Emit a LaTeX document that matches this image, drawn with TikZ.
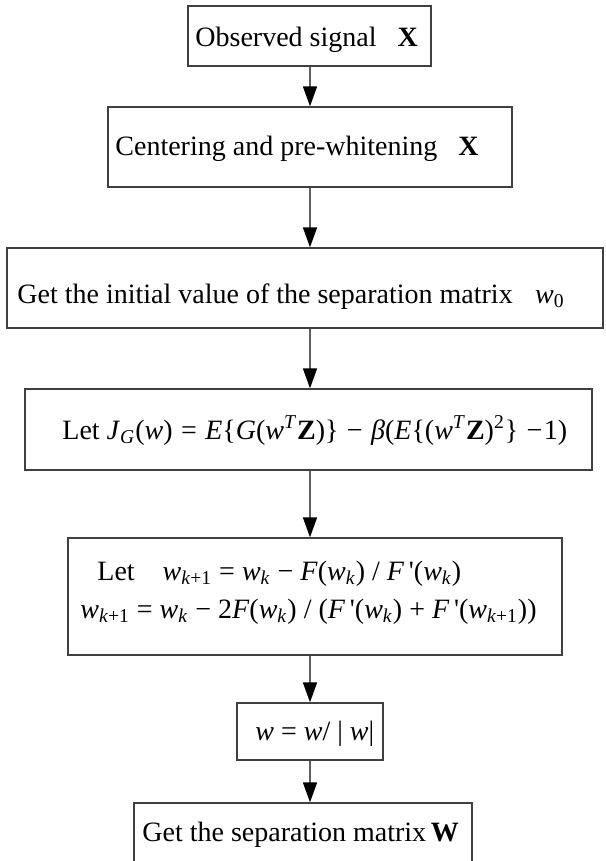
\documentclass[tikz,border=0pt]{standalone}
\usepackage{fontspec}
\setmainfont{Liberation Serif}
\usetikzlibrary{arrows.meta}
\definecolor{boxc}{gray}{0.25}
\definecolor{linec}{gray}{0.38}
\newcommand{\vi}[1]{\textit{#1}}
\newcommand{\lo}[1]{\textsubscript{#1}}
\newcommand{\hi}[1]{\textsuperscript{#1}}
\newcommand{\pr}{\,\textquotesingle}
\newcommand{\op}[1]{\hspace{0.3em}#1\hspace{0.3em}}
\begin{document}
\begin{tikzpicture}[x=0.5pt,y=-0.5pt,
  box/.style={draw=boxc, line width=0.65pt, inner sep=0pt, rectangle},
  txt/.style={inner sep=0pt, anchor=base west, font=\fontsize{14}{17}\selectfont},
  flow/.style={draw=linec, line width=0.75pt, -{Triangle[length=10pt,width=7pt,color=black]}}]
\useasboundingbox (0,0) rectangle (605,861);
\clip (0,0) rectangle (605,861);
\fill[white] (0,0) rectangle (605,861);
% boxes
\node[box, minimum width=121.5pt, minimum height=30pt] (b1) at (309.5,36) {};
\node[box, minimum width=202pt, minimum height=40pt] (b2) at (310,147) {};
\node[box, minimum width=298pt, minimum height=40pt] (b3) at (305,288) {};
\node[box, minimum width=283.5pt, minimum height=40.5pt] (b4) at (308.5,429.5) {};
\node[box, minimum width=247pt, minimum height=58.5pt] (b5) at (315,596.5) {};
\node[box, minimum width=73pt, minimum height=28.5pt] (b6) at (310,731.5) {};
\node[box, minimum width=169pt, minimum height=60pt] (b7) at (303,863) {};
% texts
\node[txt] (t1) at (195,47) {Observed signal\hspace{0.75em}\textbf{X}};
\node[txt] (t2) at (115,156) {Centering and pre-whitening\hspace{0.75em}\textbf{X}};
\node[txt] (t3) at (17,303) {Get the initial value of the separation matrix\hspace{0.8em}\vi{w}\lo{0}};
\node[txt] (t4) at (62,439) {Let \vi{J}\lo{\vi{G}}(\vi{w})\op{=}\vi{E}\{\vi{G}(\vi{w}\hi{\vi{T}}\textbf{Z})\}\op{−}\vi{β}(\vi{E}\{(\vi{w}\hi{\vi{T}}\textbf{Z})\hi{2}\}\op{−}\hspace{-0.25em}1)};
\node[txt] (t5a) at (97,580) {Let\hspace{1em}\vi{w}\lo{\vi{k}+1} = \vi{w}\lo{\vi{k}} − \vi{F}(\vi{w}\lo{\vi{k}}) / \vi{F}\pr(\vi{w}\lo{\vi{k}})};
\node[txt] (t5b) at (80,618) {\vi{w}\lo{\vi{k}+1} = \vi{w}\lo{\vi{k}} − 2\vi{F}(\vi{w}\lo{\vi{k}}) / (\vi{F}\pr(\vi{w}\lo{\vi{k}}) + \vi{F}\pr(\vi{w}\lo{\vi{k}+1}))};
\node[txt] (t6) at (255,740) {\vi{w} = \vi{w}/ | \vi{w}|};
\node[txt] (t7) at (142,841) {Get the separation matrix\,\textbf{W}};
% connectors
\draw[flow] (b2.north |- b1.south) -- (b2.north);
\draw[flow] (b2.south) -- (b2.south |- b3.north);
\draw[flow] (b2.south |- b3.south) -- (b2.south |- b4.north);
\draw[flow] (b6.north |- b4.south) -- (b6.north |- b5.north);
\draw[flow] (b6.north |- b5.south) -- (b6.north);
\draw[flow] (b6.south) -- (b6.south |- b7.north);
\end{tikzpicture}
\end{document}
